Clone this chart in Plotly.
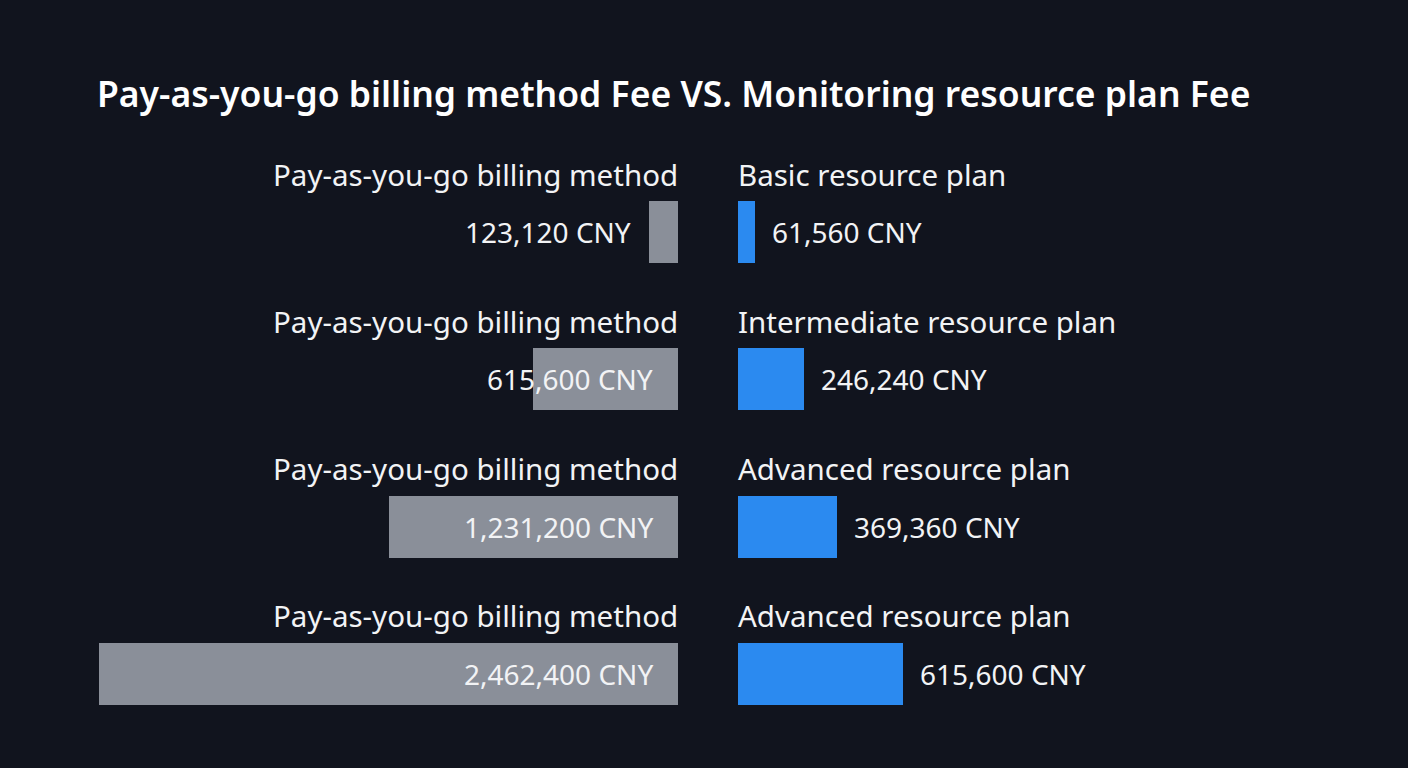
import plotly.graph_objects as go

# ---- data ----
left_labels = ["Pay-as-you-go billing method"] * 4
right_labels = ["Basic resource plan", "Intermediate resource plan",
                "Advanced resource plan", "Advanced resource plan"]
left_values = [123120, 615600, 1231200, 2462400]
right_values = [61560, 246240, 369360, 615600]
title_text = "Pay-as-you-go billing method Fee VS. Monitoring resource plan Fee"
unit = "CNY"

rows = list(range(len(left_values)))

# ---- style ----
W, H = 1408, 768
BG = "#11141e"
GREY = "#8a8f99"
BLUE = "#2b8af0"
TXT = "#f2f3f5"
FONT = "Noto Sans"
split_l, split_r = 678, 738      # pixel x of the two bar bases
left_max_px, right_max_px = 579, 165
first_center, row_step = 232, 147.33
bar_h = 62

def fmt(v):
    return f"{v:,} {unit}"

fig = go.Figure()
fig.add_trace(go.Bar(
    x=left_values, y=rows, orientation="h", xaxis="x", yaxis="y",
    marker=dict(color=GREY, line=dict(width=0)), width=bar_h / row_step,
    hoverinfo="skip", showlegend=False))
fig.add_trace(go.Bar(
    x=right_values, y=rows, orientation="h", xaxis="x2", yaxis="y",
    marker=dict(color=BLUE, line=dict(width=0)), width=bar_h / row_step,
    hoverinfo="skip", showlegend=False))

annotations = []
label_font = dict(family=FONT, size=29.5, color=TXT)
value_font = dict(family=FONT, size=28, color=TXT)
lmax = max(left_values)
for i in rows:
    # category labels above bars
    annotations.append(dict(x=0, y=i, xref="x", yref="y", text=left_labels[i],
                            xanchor="right", yanchor="middle", yshift=58, xshift=2,
                            showarrow=False, font=label_font))
    annotations.append(dict(x=0, y=i, xref="x2", yref="y", text=right_labels[i],
                            xanchor="left", yanchor="middle", yshift=58, xshift=-2,
                            showarrow=False, font=label_font))
    # left values
    if left_values[i] / lmax > 0.1:
        annotations.append(dict(x=0, y=i, xref="x", yref="y", text=fmt(left_values[i]),
                                xanchor="right", yanchor="middle", xshift=-23,
                                showarrow=False, font=value_font))
    else:
        annotations.append(dict(x=left_values[i], y=i, xref="x", yref="y",
                                text=fmt(left_values[i]),
                                xanchor="right", yanchor="middle", xshift=-16,
                                showarrow=False, font=value_font))
    # right values
    annotations.append(dict(x=right_values[i], y=i, xref="x2", yref="y",
                            text=fmt(right_values[i]),
                            xanchor="left", yanchor="middle", xshift=15,
                            showarrow=False, font=value_font))

annotations.append(dict(x=95 / W, y=1 - 93 / H, xref="paper", yref="paper",
                        text=title_text, xanchor="left", yanchor="middle",
                        showarrow=False,
                        font=dict(family=FONT, size=35.5, color="#ffffff", weight=600)))

y_top = -first_center / row_step
y_bot = (H - first_center) / row_step
hidden = dict(showgrid=False, zeroline=False, showticklabels=False,
              showline=False, ticks="", fixedrange=True)

fig.update_layout(
    width=W, height=H, margin=dict(l=0, r=0, t=0, b=0),
    paper_bgcolor=BG, plot_bgcolor=BG,
    xaxis=dict(domain=[0, split_l / W],
               range=[lmax * split_l / left_max_px, 0], anchor="y", **hidden),
    xaxis2=dict(domain=[split_r / W, 1],
                range=[0, max(right_values) * (W - split_r) / right_max_px],
                anchor="y", **hidden),
    yaxis=dict(domain=[0, 1], range=[y_bot, y_top], **hidden),
    annotations=annotations,
    bargap=0,
)

fig.write_html("out.html")
